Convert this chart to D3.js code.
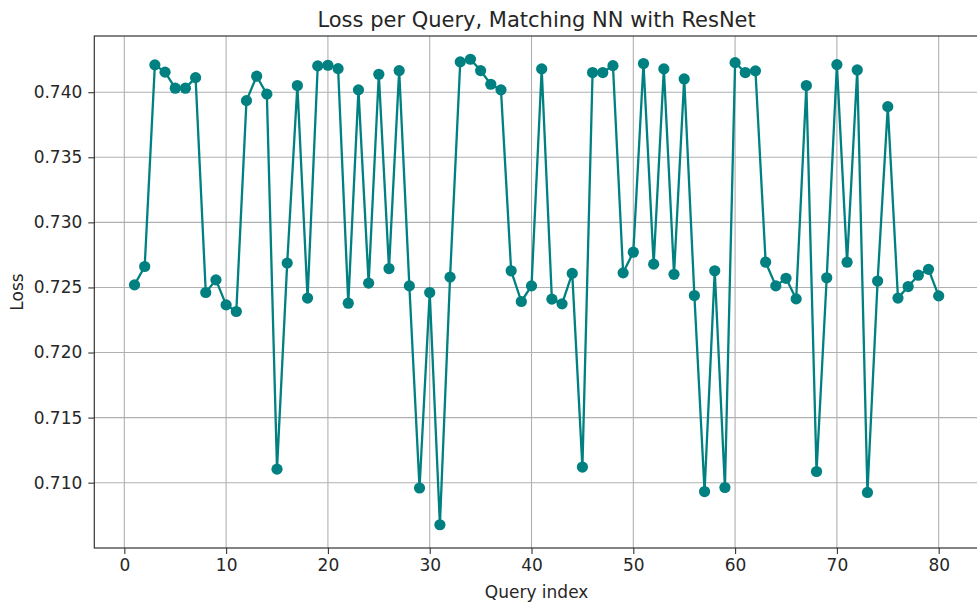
<!DOCTYPE html>
<html>
<head>
<meta charset="utf-8">
<script src="https://cdn.jsdelivr.net/npm/d3@7"></script>
<style>
  html, body { margin: 0; padding: 0; background: #fff; }
  svg { display: block; font-family: "DejaVu Sans", sans-serif; }
</style>
</head>
<body>
<svg id="chart" width="977" height="608"></svg>
<script>
const title = "Loss per Query, Matching NN with ResNet";
const xLabel = "Query index";
const yLabel = "Loss";
const xTicks = [0, 10, 20, 30, 40, 50, 60, 70, 80];
const yTicks = [0.710, 0.715, 0.720, 0.725, 0.730, 0.735, 0.740];
const queryIndex = d3.range(1, 81);
const loss = [
  0.72520, 0.72661, 0.74210, 0.74154, 0.74031, 0.74031, 0.74112, 0.72461, 0.72558, 0.72366,
  0.72315, 0.73935, 0.74123, 0.73985, 0.71104, 0.72687, 0.74051, 0.72418, 0.74202, 0.74207,
  0.74181, 0.72379, 0.74018, 0.72533, 0.74138, 0.72645, 0.74166, 0.72512, 0.70959, 0.72461,
  0.70677, 0.72579, 0.74233, 0.74253, 0.74166, 0.74061, 0.74018, 0.72628, 0.72392, 0.72512,
  0.74179, 0.72410, 0.72374, 0.72608, 0.71120, 0.74151, 0.74151, 0.74204, 0.72612, 0.72771,
  0.74220, 0.72679, 0.74179, 0.72601, 0.74102, 0.72438, 0.70932, 0.72628, 0.70963, 0.74227,
  0.74151, 0.74164, 0.72694, 0.72512, 0.72570, 0.72412, 0.74051, 0.71086, 0.72574, 0.74212,
  0.72694, 0.74171, 0.70925, 0.72549, 0.73889, 0.72418, 0.72507, 0.72594, 0.72639, 0.72435
];
const data = queryIndex.map((q, i) => ({ q, v: loss[i] }));

const color = "#008080";
const svg = d3.select("#chart");
const plotL = 94.3, plotR = 978.9, plotT = 36, plotB = 548;

function padded(ext) {
  const m = (ext[1] - ext[0]) * 0.05;
  return [ext[0] - m, ext[1] + m];
}
const x = d3.scaleLinear().domain(padded(d3.extent(queryIndex))).range([plotL, plotR]);
const y = d3.scaleLinear().domain(padded(d3.extent(loss))).range([plotB, plotT]);

// grid
const grid = svg.append("g");
grid.selectAll(".gx").data(xTicks).join("line")
  .attr("x1", d => x(d)).attr("x2", d => x(d))
  .attr("y1", plotT).attr("y2", plotB)
  .attr("stroke", "#b0b0b0").attr("stroke-width", 1.1);
grid.selectAll(".gy").data(yTicks).join("line")
  .attr("x1", plotL).attr("x2", plotR)
  .attr("y1", d => y(d)).attr("y2", d => y(d))
  .attr("stroke", "#b0b0b0").attr("stroke-width", 1.1);

// line + markers
svg.append("path").datum(data)
  .attr("fill", "none").attr("stroke", color).attr("stroke-width", 2.3)
  .attr("stroke-linejoin", "round")
  .attr("d", d3.line().x(d => x(d.q)).y(d => y(d.v)));
svg.append("g").selectAll("circle").data(data).join("circle")
  .attr("cx", d => x(d.q)).attr("cy", d => y(d.v)).attr("r", 5.6)
  .attr("fill", color);

// axes
const fs = 17;
const xAxis = svg.append("g").attr("transform", `translate(0,${plotB})`)
  .call(d3.axisBottom(x).tickValues(xTicks).tickSize(6).tickPadding(5).tickFormat(d3.format("d")));
const yAxis = svg.append("g").attr("transform", `translate(${plotL},0)`)
  .call(d3.axisLeft(y).tickValues(yTicks).tickSize(6).tickPadding(6).tickFormat(d3.format(".3f")));
[xAxis, yAxis].forEach(a => {
  a.select(".domain").remove();
  a.selectAll(".tick line").attr("stroke", "#333").attr("stroke-width", 1.1);
  a.selectAll(".tick text").attr("font-size", fs).attr("fill", "#262626")
    .attr("font-family", "DejaVu Sans");
});

// spines
svg.append("rect").attr("x", plotL).attr("y", plotT)
  .attr("width", plotR - plotL).attr("height", plotB - plotT)
  .attr("fill", "none").attr("stroke", "#333").attr("stroke-width", 1.2);

// labels
svg.append("text").attr("x", (plotL + plotR) / 2).attr("y", 26.5)
  .attr("text-anchor", "middle").attr("font-size", 21).attr("fill", "#262626").text(title);
svg.append("text").attr("x", (plotL + plotR) / 2).attr("y", 598)
  .attr("text-anchor", "middle").attr("font-size", fs).attr("fill", "#262626").text(xLabel);
svg.append("text").attr("transform", `translate(23,${(plotT + plotB) / 2}) rotate(-90)`)
  .attr("text-anchor", "middle").attr("font-size", fs).attr("fill", "#262626").text(yLabel);
</script>
</body>
</html>
